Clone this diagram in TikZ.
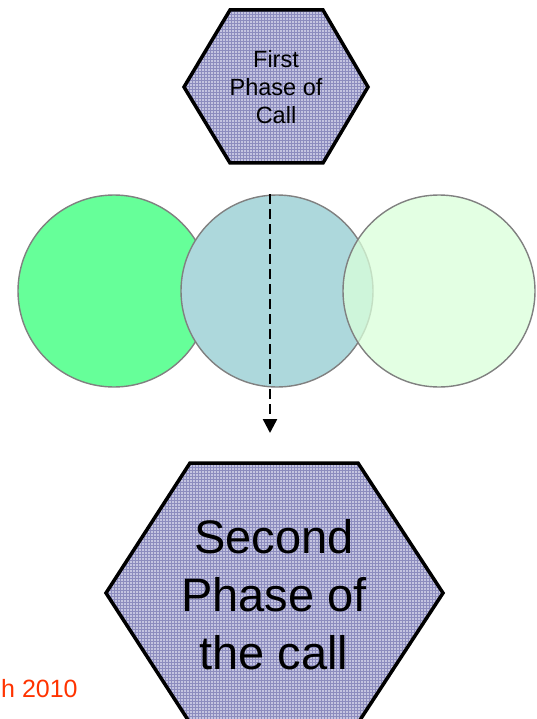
\documentclass[tikz,border=0pt]{standalone}
\usepackage{fontspec}
\setmainfont{Liberation Sans}
\usetikzlibrary{arrows.meta,patterns}

\definecolor{hexfill}{RGB}{196,196,224}
\definecolor{hexgrid}{RGB}{140,140,190}
\definecolor{ringA}{RGB}{102,255,153}
\definecolor{ringB}{RGB}{173,216,220}
\definecolor{ringC}{RGB}{218,255,218}
\definecolor{dateRed}{RGB}{255,51,0}

\begin{document}
\begin{tikzpicture}[x=1pt, y=-1pt, >={Triangle[width=14pt,length=14pt]},
    align=center,
    hexbox/.style={draw=black, line width=3.5pt, line join=miter,
      preaction={fill=hexfill}, pattern=grid, pattern color=hexgrid},
    ring/.style={circle, draw=gray, line width=1.4pt, minimum size=192pt, inner sep=0pt}]
\useasboundingbox (0,0) rectangle (536,719);
\coordinate (0) at (230,10);
\coordinate (1) at (323,10);
\coordinate (2) at (368,87);
\coordinate (3) at (323,163);
\coordinate (4) at (230,163);
\coordinate (5) at (184,87);
\coordinate (6) at (190,463);
\coordinate (7) at (358,463);
\coordinate (8) at (443,593);
\coordinate (9) at (358,723);
\coordinate (10) at (190,723);
\coordinate (11) at (106,593);
\coordinate (12) at (270,433);
\draw [hexbox] (0) -- (1) -- (2) -- (3) -- (4) -- (5) -- cycle;
\draw [hexbox] (6) -- (7) -- (8) -- (9) -- (10) -- (11) -- cycle;
\node [ring, fill=ringA] (c1) at (114,291) {};
\node [ring, fill=ringB] (c2) at (277,291) {};
\node [ring, fill=ringC, fill opacity=0.75] (c3) at (439,291) {};
\draw [->, line width=2.5pt, dash pattern=on 10pt off 5pt] (c2.north -| 12) -- (12);
\node [font=\fontsize{23.5}{28}\selectfont] (first) at (276,87) {First\\Phase of\\Call};
\node [font=\fontsize{47}{58}\selectfont] (second) at (274,595) {Second\\Phase of\\the call};
\node [anchor=base west, inner sep=0pt, text=dateRed, font=\fontsize{25}{30}\selectfont] (date) at (1,697) {h 2010};
\end{tikzpicture}
\end{document}
